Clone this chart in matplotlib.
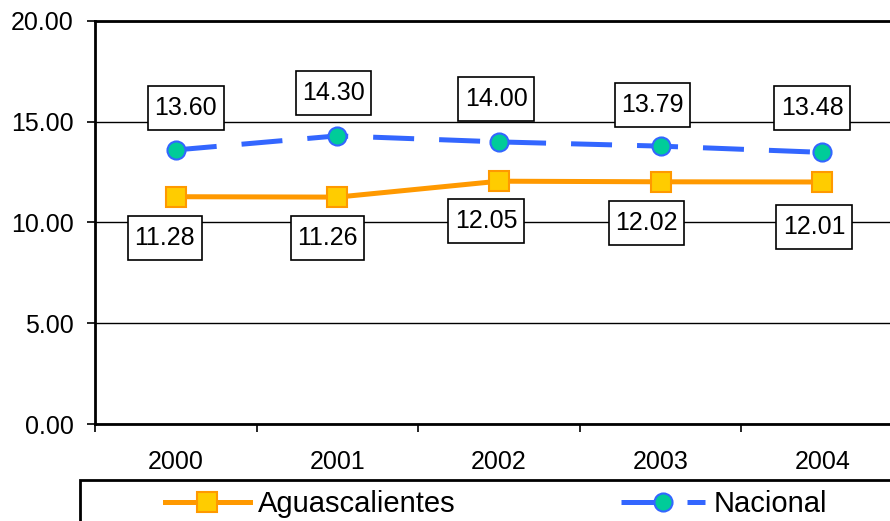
import matplotlib
matplotlib.use("Agg")
import matplotlib.pyplot as plt
from matplotlib.patches import Rectangle
from matplotlib.path import Path

plt.rcParams['font.family'] = ['Liberation Sans', 'DejaVu Sans']

years = ['2000', '2001', '2002', '2003', '2004']
aguascalientes = [11.28, 11.26, 12.05, 12.02, 12.01]
nacional = [13.60, 14.30, 14.00, 13.79, 13.48]
y_ticks = [0, 5, 10, 15, 20]

# label offsets (pixels) as placed in the original
dx_nac = [10, -4, -3, -8, -10]
dy_nac = [42, 43, 43, 41, 44]
dx_ags = [-11, -10, -13, -14, -8]
dy_ags = [-41, -41, -40, -41, -45]

px = 0.72  # pixel -> point at dpi 100


def label_box(x0, y0, width, height, mutation_size):
    # wider vertical padding than horizontal, like the excel labels
    padx = 0.26 * mutation_size
    pady = 0.40 * mutation_size
    x0, y0 = x0 - padx, y0 - pady
    x1, y1 = x0 + width + 2 * padx, y0 + height + 2 * pady
    return Path([(x0, y0), (x1, y0), (x1, y1), (x0, y1), (x0, y0)], closed=True)


fig = plt.figure(figsize=(8.9, 5.21), dpi=100)
ax = fig.add_axes([95/890, 97/521, 808/890, 403/521])

x = list(range(len(years)))
ax.plot(x, aguascalientes, color='#FF9900', lw=5*px, marker='s', ms=14,
        mfc='#FFCC00', mec='#FF9900', mew=1.5, label='Aguascalientes', zorder=4)
ax.plot(x, nacional, color='#3366FF', lw=5*px, ls=(0, (8.2, 5)), marker='o', ms=13,
        mfc='#00CC99', mec='#3366FF', mew=1.5, label='Nacional', zorder=5)

box = dict(boxstyle=label_box, fc='white', ec='black', lw=1.2)
for i, v in enumerate(nacional):
    ax.annotate(f'{v:.2f}', (i, v), xytext=(dx_nac[i]*px, dy_nac[i]*px),
                textcoords='offset points', ha='center', va='center',
                fontsize=18, bbox=box, zorder=6)
for i, v in enumerate(aguascalientes):
    ax.annotate(f'{v:.2f}', (i, v), xytext=(dx_ags[i]*px, dy_ags[i]*px),
                textcoords='offset points', ha='center', va='center',
                fontsize=18, bbox=box, zorder=6)

ax.set_xlim(-0.5, len(years) - 0.5)
ax.set_ylim(0, 20)
ax.set_yticks(y_ticks)
ax.set_yticklabels([f'{t:.2f}' for t in y_ticks])
ax.yaxis.grid(True, color='black', lw=1.0)
ax.set_axisbelow(True)

ax.set_xticks([i - 0.5 for i in range(len(years) + 1)])
ax.set_xticklabels([])
ax.set_xticks(x, minor=True)
ax.set_xticklabels(years, minor=True)
ax.tick_params(axis='x', which='major', length=8*px, width=1.2, direction='out')
ax.tick_params(axis='x', which='minor', length=0, pad=26*px, labelsize=18)
ax.tick_params(axis='y', length=8*px, width=1.2, direction='out', pad=13*px, labelsize=18)

for s in ['left', 'bottom', 'top']:
    ax.spines[s].set_linewidth(2)
ax.spines['right'].set_visible(False)

fig.add_artist(Rectangle((80/890, -0.2), 1.0, 0.2 + 41/521, transform=fig.transFigure,
                         fc='white', ec='black', lw=2, clip_on=False))
fig.legend(loc='center left', bbox_to_anchor=(165/890, 1 - 504/521), ncol=2,
           frameon=False, fontsize=21, handlelength=2.9, handletextpad=0.3,
           columnspacing=5.65, numpoints=1, borderpad=0, borderaxespad=0)

fig.savefig('out.png', dpi=100)
